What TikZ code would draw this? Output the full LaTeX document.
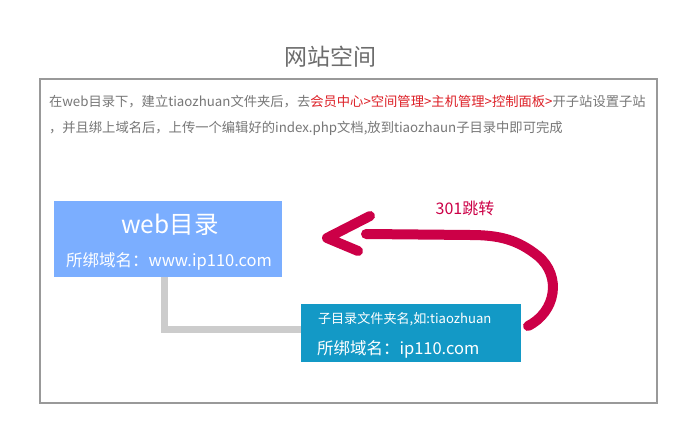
\documentclass[tikz,border=0pt]{standalone}
\usepackage{fontspec}
\setmainfont{Noto Sans CJK SC}
\definecolor{bodygray}{HTML}{777777}
\definecolor{linkred}{HTML}{DD1F26}
\definecolor{webblue}{HTML}{7BAEFF}
\definecolor{subteal}{HTML}{1399C6}
\definecolor{arrowred}{HTML}{CC0047}
\definecolor{conngray}{HTML}{CCCCCC}
\definecolor{framegray}{HTML}{999999}
\tikzset{
  box/.style={inner sep=0pt, outer sep=0pt, draw=none},
  txt/.style={inner sep=0pt, outer sep=0pt},
  redarrow/.style={draw=arrowred, line width=10pt, line cap=round, line join=round},
}
\begin{document}
\begin{tikzpicture}[x=1pt,y=-1pt]
\useasboundingbox (0,0) rectangle (691,446);
\fill[white] (0,0) rectangle (691,446);
% frame
\node[box, draw=framegray, line width=2pt, minimum width=617pt, minimum height=324pt] (frame) at (348.5,241) {};
\node[txt, text=gray!85!black, font=\fontsize{23}{26}\selectfont] (title) at (330,57) {网站空间};
\node[txt, anchor=west, text=bodygray, font=\fontsize{13.3}{15}\selectfont] (line1) at (49,102) {在web目录下，建立tiaozhuan文件夹后，去\textcolor{linkred}{会员中心>空间管理>主机管理>控制面板>}开子站设置子站};
\node[txt, anchor=west, text=bodygray, font=\fontsize{13.3}{15}\selectfont] (line2) at (49,128) {，并且绑上域名后，上传一个编辑好的index.php文档,放到tiaozhaun子目录中即可完成};
% boxes
\node[box, fill=webblue, minimum width=228pt, minimum height=76pt] (web) at (168,239) {};
\node[txt, text=white, font=\fontsize{24.5}{28}\selectfont] (webt) at (170,225) {web目录};
\node[txt, text=white, font=\fontsize{16.5}{19}\selectfont] (webd) at (169,261) {所绑域名：www.ip110.com};
\node[box, fill=subteal, minimum width=220pt, minimum height=58pt] (sub) at (411,333) {};
\node[txt, anchor=west, text=white, font=\fontsize{13.1}{15}\selectfont] (subt) at (318,319) {子目录文件夹名,如:tiaozhuan};
\node[txt, anchor=west, text=white, font=\fontsize{16.5}{19}\selectfont] (subd) at (317,349) {所绑域名：ip110.com};
% connector
\draw[conngray, line width=7pt] ([xshift=-3.5pt]web.south) |- ([yshift=3pt]sub.west);
% redirect arrow
\node[txt, text=arrowred, font=\fontsize{16}{19}\selectfont] (lbl) at (465,208) {301跳转};
\coordinate (tail) at (528,326);
\coordinate (tip) at (327,238);
\draw[redarrow] (tail) .. controls (556,312) and (562,276) .. (538,256)
  .. controls (518,240) and (500,235) .. (470,235) -- (366,234);
\draw[redarrow] (370,216) -- (tip) -- (358,251);
\end{tikzpicture}
\end{document}
